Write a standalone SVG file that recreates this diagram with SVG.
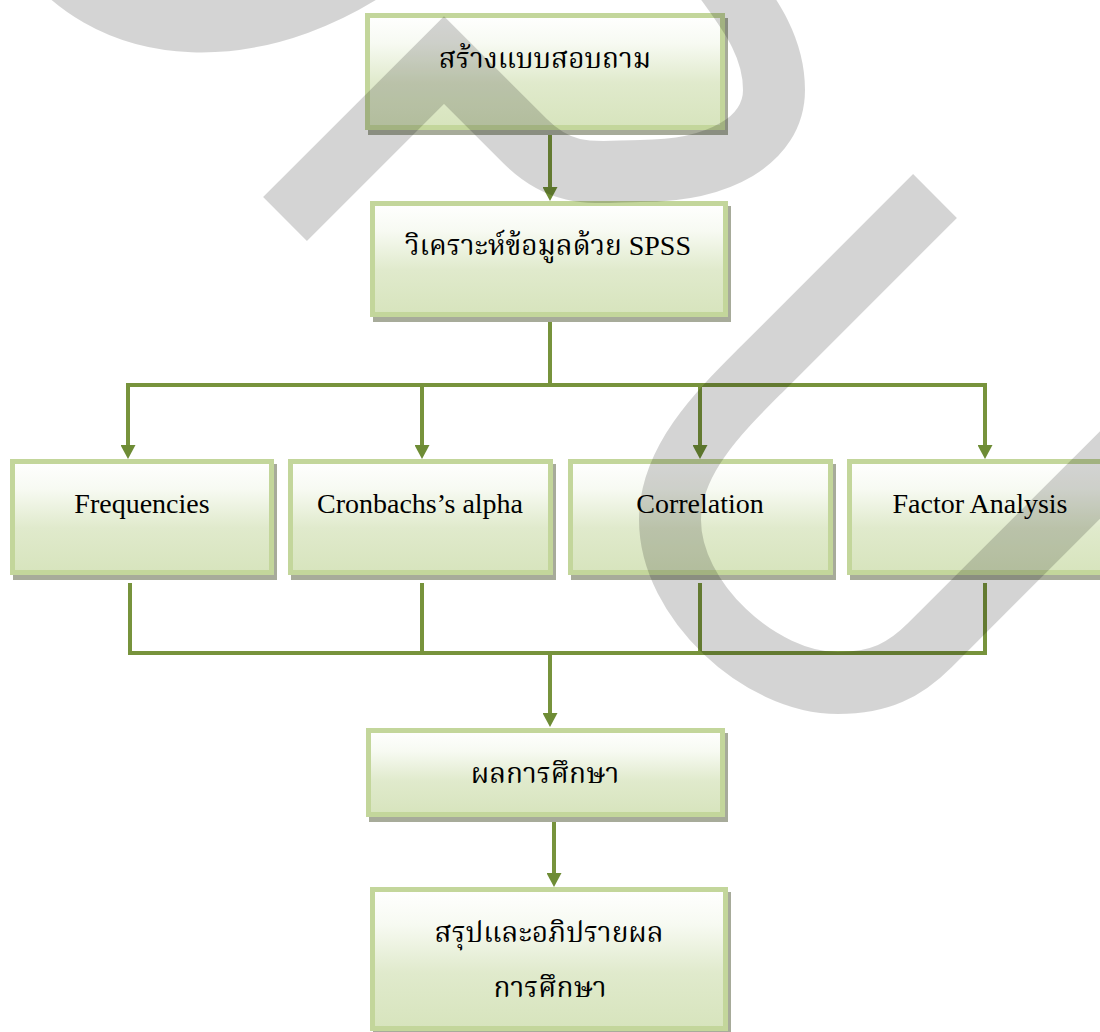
<svg xmlns="http://www.w3.org/2000/svg" width="1100" height="1032" viewBox="0 0 1100 1032">
<style>
.shadow{fill:#a7ab9a}
.box{fill:url(#boxfill);stroke:#c3d69b;stroke-width:5}
.lbl{font-family:"Liberation Serif","Noto Serif Thai","Noto Sans Thai","Norasi","Loma",serif;font-size:28px;fill:#000;text-anchor:middle}
.latin{font-family:"Liberation Serif",serif}
.conn{stroke:#77933c;stroke-width:4;fill:none}
.bar{stroke:#77933c;stroke-width:4;fill:none;stroke-linecap:square}
.wm{fill:none;stroke:#000;stroke-opacity:0.17;stroke-width:62;stroke-linejoin:miter}
</style>
<defs>
<linearGradient id="boxfill" x1="0" y1="0" x2="0" y2="1">
<stop offset="0" stop-color="#ffffff"/>
<stop offset="0.25" stop-color="#f7faf2"/>
<stop offset="0.6" stop-color="#e0eacc"/>
<stop offset="1" stop-color="#d7e4bd"/>
</linearGradient>
<marker id="arrow" viewBox="0 0 14 15" refX="4" refY="7.5" markerWidth="14" markerHeight="15" markerUnits="userSpaceOnUse" orient="auto">
<path d="M0,0 L14,7.5 L0,15 Z" fill="#6e8c35"/>
</marker>
</defs>
<rect width="1100" height="1032" fill="#ffffff"/>

<g id="connectors">
<path class="conn" d="M550,130 L550,191" marker-end="url(#arrow)"/>
<path class="conn" d="M550,317 L550,385"/>
<path class="bar" d="M128,385 L985,385"/>
<path class="conn" d="M128,385 L128,449" marker-end="url(#arrow)"/>
<path class="conn" d="M422,385 L422,449" marker-end="url(#arrow)"/>
<path class="conn" d="M700,385 L700,449" marker-end="url(#arrow)"/>
<path class="conn" d="M985,385 L985,449" marker-end="url(#arrow)"/>
<path class="conn" d="M130,583 L130,653"/>
<path class="conn" d="M422,583 L422,653"/>
<path class="conn" d="M700,583 L700,653"/>
<path class="conn" d="M985,583 L985,653"/>
<path class="bar" d="M130,653 L985,653"/>
<path class="conn" d="M550,653 L550,717" marker-end="url(#arrow)"/>
<path class="conn" d="M554,820 L554,877" marker-end="url(#arrow)"/>
</g>

<g id="node-questionnaire">
<rect class="shadow" x="368" y="18" width="360" height="117"/>
<rect class="box" x="367.5" y="15.5" width="355" height="112"/>
<text class="lbl" x="545" y="68">สร้างแบบสอบถาม</text>
</g>
<g id="node-spss">
<rect class="shadow" x="373" y="206" width="358" height="116"/>
<rect class="box" x="372.5" y="203.5" width="353" height="111"/>
<text class="lbl" x="548" y="255">วิเคราะห์ข้อมูลด้วย <tspan class="latin">SPSS</tspan></text>
</g>
<g id="node-frequencies">
<rect class="shadow" x="13" y="464" width="264" height="116"/>
<rect class="box" x="12.5" y="461.5" width="259" height="111"/>
<text class="lbl" x="142" y="513">Frequencies</text>
</g>
<g id="node-cronbach">
<rect class="shadow" x="291" y="464" width="265" height="116"/>
<rect class="box" x="290.5" y="461.5" width="260" height="111"/>
<text class="lbl" x="420" y="513">Cronbachs’s alpha</text>
</g>
<g id="node-correlation">
<rect class="shadow" x="571" y="464" width="265" height="116"/>
<rect class="box" x="570.5" y="461.5" width="260" height="111"/>
<text class="lbl" x="700" y="513">Correlation</text>
</g>
<g id="node-factor">
<rect class="shadow" x="850" y="464" width="271" height="116"/>
<rect class="box" x="849.5" y="461.5" width="266" height="111"/>
<text class="lbl" x="980" y="513">Factor Analysis</text>
</g>
<g id="node-results">
<rect class="shadow" x="369" y="733" width="359" height="89"/>
<rect class="box" x="368.5" y="730.5" width="354" height="84"/>
<text class="lbl" x="545" y="783">ผลการศึกษา</text>
</g>
<g id="node-conclusion">
<rect class="shadow" x="373" y="892" width="358" height="144"/>
<rect class="box" x="372.5" y="889.5" width="353" height="139"/>
<text class="lbl" x="549" y="942">สรุปและอภิปรายผล</text>
<text class="lbl" x="550" y="997">การศึกษา</text>
</g>

<g id="watermark">
<path class="wm" d="M30,-75 C100,50 270,50 400,-55"/>
<path class="wm" d="M285,219 L444,60 L525,141 C565,181 600,171 640,171 C720,171 774,140 774,90 C774,45 748,12 725,-20"/>
<path class="wm" d="M935,196 L760,371 C720,411 670,460 670,520 C670,600 760,683 838,683 C880,683 905,670 930,645 L1160,415"/>
</g>
</svg>
